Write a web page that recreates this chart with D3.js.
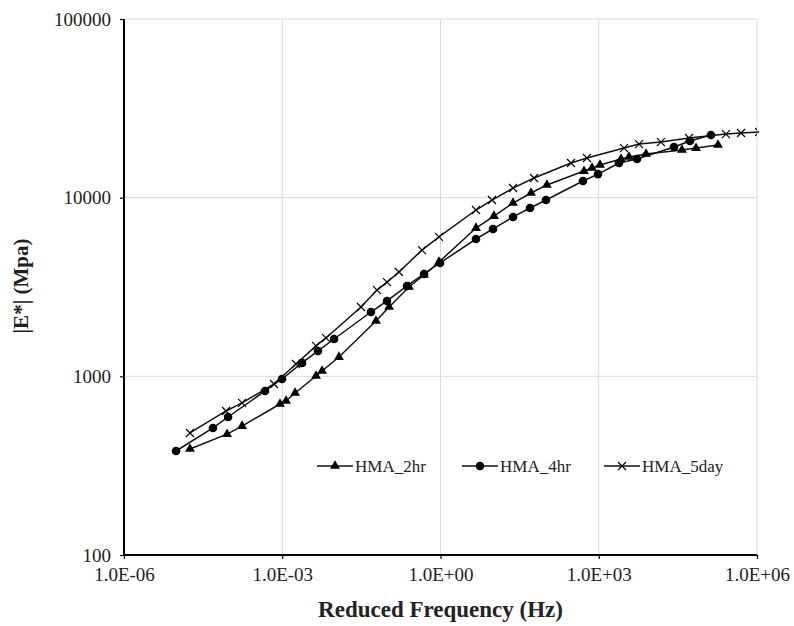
<!DOCTYPE html>
<html><head><meta charset="utf-8">
<script src="https://cdn.jsdelivr.net/npm/d3@7"></script>
<style>body{margin:0;background:#fff}svg{display:block}</style>
</head><body>
<script>
// Data
const freq2hr = [1.78e-5, 9.0e-5, 1.73e-4, 9.06e-4, 1.18e-3, 1.75e-3, 4.37e-3, 5.68e-3, 1.19e-2, 0.0598, 0.106, 0.253, 0.487, 0.937, 4.71, 10.3, 23.7, 52, 104, 525, 744, 1057, 2644, 3745, 7870, 37800, 69800, 182000];
const e2hr    = [392, 475, 527, 700, 728, 807, 1004, 1071, 1282, 2042, 2443, 3162, 3690, 4365, 6761, 7890, 9333, 10620, 11780, 14090, 14660, 15230, 16450, 16890, 17550, 18480, 18950, 19710];
const freq4hr = [9.7e-6, 4.86e-5, 9.4e-5, 4.71e-4, 9.9e-4, 2.37e-3, 4.76e-3, 9.6e-3, 0.048, 0.0968, 0.232, 0.487, 0.98, 4.71, 9.9, 23.7, 49.8, 100, 502, 968, 2423, 5310, 26700, 53700, 134000];
const e4hr    = [382, 514, 592, 828, 966, 1189, 1387, 1618, 2291, 2642, 3206, 3740, 4310, 5870, 6680, 7800, 8750, 9700, 12390, 13550, 15630, 16450, 19230, 20740, 22440];
const freq5day = [1.78e-5, 8.6e-5, 1.73e-4, 6.98e-4, 1.82e-3, 4.37e-3, 6.75e-3, 0.0311, 0.0625, 0.0968, 0.163, 0.446, 0.937, 4.71, 9.46, 23.7, 59.3, 298, 598, 3010, 5800, 15100, 51400, 258000, 498000, 1100000];
const e5day    = [482, 640, 710, 906, 1172, 1480, 1640, 2443, 3040, 3370, 3837, 5090, 6030, 8530, 9700, 11320, 12880, 15630, 16670, 18950, 19950, 20470, 21570, 22700, 23000, 23300];
const seriesNames = ["HMA_2hr", "HMA_4hr", "HMA_5day"];
const xTickValues = [1e-6, 1e-3, 1e0, 1e3, 1e6];
const xTickLabels = ["1.0E-06", "1.0E-03", "1.0E+00", "1.0E+03", "1.0E+06"];
const yTickValues = [100, 1000, 10000, 100000];
const yTickLabels = ["100", "1000", "10000", "100000"];

const W = 794, H = 626;
const m = {left:124, top:19, right:37, bottom:71};
const iw = W - m.left - m.right, ih = H - m.top - m.bottom;

const svg = d3.select("body").append("svg").attr("width", W).attr("height", H)
  .style("font-family", "'Liberation Serif','Times New Roman',serif");
const x = d3.scaleLog().domain([1e-6, 1e6]).range([0, iw]);
const y = d3.scaleLog().domain([100, 100000]).range([ih, 0]);
const g = svg.append("g").attr("transform", `translate(${m.left},${m.top})`);

// gridlines
g.selectAll(".gx").data(xTickValues.slice(1)).join("line")
  .attr("x1", d => x(d)).attr("x2", d => x(d)).attr("y1", 0).attr("y2", ih)
  .attr("stroke", "#d9d9d9").attr("stroke-width", 1);
g.selectAll(".gy").data(yTickValues.slice(1)).join("line")
  .attr("x1", 0).attr("x2", iw).attr("y1", d => y(d)).attr("y2", d => y(d))
  .attr("stroke", "#d9d9d9").attr("stroke-width", 1);

// axes
const xAxis = d3.axisBottom(x).tickValues(xTickValues).tickSize(4).tickPadding(9)
  .tickFormat((d, i) => xTickLabels[i]);
const yAxis = d3.axisLeft(y).tickValues(yTickValues).tickSize(4).tickPadding(9)
  .tickFormat((d, i) => yTickLabels[i]);
const gx = g.append("g").attr("transform", `translate(0,${ih})`).call(xAxis);
const gy = g.append("g").call(yAxis);
[gx, gy].forEach(a => {
  a.select(".domain").attr("stroke", "#000").attr("stroke-width", 2);
  a.selectAll(".tick line").attr("stroke", "#000").attr("stroke-width", 1.2);
  a.selectAll("text").attr("font-size", 19).attr("fill", "#222")
    .style("font-family", "'Liberation Serif','Times New Roman',serif");
});
gx.select(".domain").attr("d", `M0,0H${iw}`);
gy.select(".domain").attr("d", `M0,0V${ih}`);

// clip
svg.append("clipPath").attr("id", "clipL").append("rect")
  .attr("x", 0).attr("y", -10).attr("width", iw + 3).attr("height", ih + 20);
svg.append("clipPath").attr("id", "clipM").append("rect")
  .attr("x", -10).attr("y", -10).attr("width", iw + 10).attr("height", ih + 20);

const series = [
  {name: seriesNames[0], xs: freq2hr, ys: e2hr, mk: "tri"},
  {name: seriesNames[1], xs: freq4hr, ys: e4hr, mk: "circ"},
  {name: seriesNames[2], xs: freq5day, ys: e5day, mk: "cross"}
];
const line = d3.line().x(d => x(d[0])).y(d => y(d[1]));

function drawMarker(sel, type) {
  if (type === "tri") {
    sel.append("path").attr("d", d3.symbol().type(d3.symbolTriangle).size(42)())
      .attr("fill", "#000");
  } else if (type === "circ") {
    sel.append("circle").attr("r", 4.3).attr("fill", "#000");
  } else {
    sel.append("path").attr("d", "M-4,-4L4,4M-4,4L4,-4")
      .attr("stroke", "#000").attr("stroke-width", 1.2).attr("fill", "none");
  }
}

series.forEach(s => {
  const pts = s.xs.map((v, i) => [v, s.ys[i]]);
  g.append("path").datum(pts).attr("d", line).attr("fill", "none")
    .attr("stroke", "#111").attr("stroke-width", 1.5).attr("clip-path", "url(#clipL)");
  const mg = g.append("g").attr("clip-path", "url(#clipM)");
  mg.selectAll("g").data(pts).join("g")
    .attr("transform", d => `translate(${x(d[0])},${y(d[1])})`)
    .each(function() { drawMarker(d3.select(this), s.mk); });
});

// legend
const legendX = [317, 462, 604];
const legendY = 466;
series.forEach((s, i) => {
  const lg = svg.append("g").attr("transform", `translate(${legendX[i]},${legendY})`);
  lg.append("line").attr("x1", 0).attr("x2", 36).attr("y1", 0).attr("y2", 0)
    .attr("stroke", "#111").attr("stroke-width", 1.5);
  const mk = lg.append("g").attr("transform", "translate(18,0)");
  drawMarker(mk, s.mk);
  lg.append("text").attr("x", 38).attr("y", 6).attr("font-size", 17).attr("fill", "#222")
    .text(s.name);
});

// titles
svg.append("text").attr("x", m.left + iw / 2).attr("y", 617).attr("text-anchor", "middle")
  .attr("font-size", 23).attr("font-weight", "bold").attr("fill", "#222")
  .text("Reduced Frequency (Hz)");
svg.append("text").attr("transform", "translate(28,286) rotate(-90)")
  .attr("text-anchor", "middle").attr("font-size", 21).attr("font-weight", "bold").attr("fill", "#222")
  .text("|E*| (Mpa)");
</script>
</body></html>
